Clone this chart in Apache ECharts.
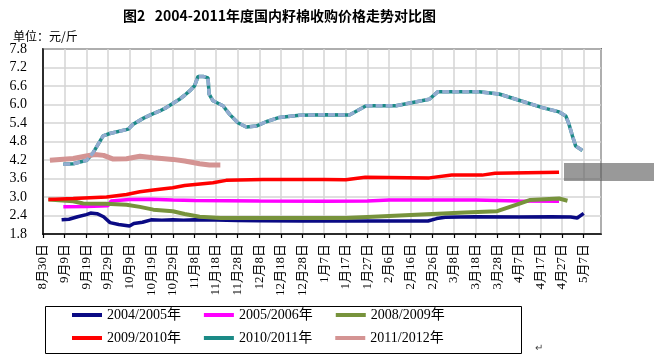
<!DOCTYPE html>
<html>
<head>
<meta charset="utf-8">
<script src="https://cdn.jsdelivr.net/npm/echarts@6/dist/echarts.min.js"></script>
<style>html,body{margin:0;padding:0;background:#fff;}#c{width:654px;height:357px;}</style>
</head>
<body>
<div id="c"></div>
<script>
// Tick labels (every 10 days starting 8月30日)
var tickLabels = ['8月30日','9月9日','9月19日','9月29日','10月9日','10月19日','10月29日','11月8日','11月18日','11月28日','12月8日','12月18日','12月28日','1月7日','1月17日','1月27日','2月6日','2月16日','2月26日','3月8日','3月18日','3月28日','4月7日','4月17日','4月27日','5月7日'];
var seriesNames = ['2004/2005年','2005/2006年','2008/2009年','2009/2010年','2010/2011年','2011/2012年'];
// [days since 8月30日, price 元/斤]
var s0405 = [[8.6,2.26],[12,2.28],[16,2.36],[20,2.43],[22,2.48],[25,2.46],[28,2.36],[31,2.17],[35,2.11],[40,2.06],[42,2.14],[46,2.18],[50,2.26],[55,2.25],[60,2.26],[65,2.25],[70,2.26],[80,2.25],[90,2.24],[100,2.23],[120,2.22],[140,2.22],[160,2.22],[178,2.22],[182,2.3],[186,2.34],[200,2.36],[220,2.35],[235,2.36],[244,2.35],[247,2.32],[250,2.47]];
var s0506 = [[9.4,2.68],[20,2.69],[30,2.72],[31.5,2.87],[40,2.92],[50,2.93],[60,2.9],[70,2.89],[100,2.87],[130,2.86],[150,2.87],[160,2.9],[200,2.9],[220,2.87],[238.6,2.86]];
var s0809 = [[2.5,2.92],[14,2.86],[18.6,2.79],[29,2.78],[38.6,2.75],[44.8,2.68],[51,2.59],[60,2.54],[65.5,2.45],[72.4,2.36],[82,2.32],[140,2.32],[195,2.5],[210,2.54],[219,2.75],[225,2.9],[238.6,2.95],[242.5,2.88]];
var s0910 = [[2.5,2.92],[14,2.95],[29.4,3.0],[38.6,3.08],[44.8,3.17],[51,3.23],[60,3.3],[65.5,3.37],[78.6,3.46],[84.7,3.54],[101.7,3.57],[130,3.57],[140,3.56],[149,3.64],[178.6,3.62],[189,3.71],[203,3.71],[209,3.77],[238.6,3.8]];
var s1011 = [[9.4,4.06],[14,4.08],[20.2,4.19],[23.2,4.44],[27.8,4.98],[30.9,5.06],[39.4,5.2],[41.7,5.36],[46.3,5.55],[50.2,5.68],[54,5.79],[57,5.9],[60,6.03],[63.1,6.17],[65.5,6.3],[67.8,6.44],[70.1,6.61],[71.7,6.91],[74,6.91],[76.3,6.86],[76.8,6.34],[78.6,6.12],[83.2,5.96],[86.3,5.68],[90.1,5.41],[94,5.27],[98.6,5.3],[103.2,5.44],[109.3,5.58],[118.6,5.65],[130,5.67],[141.7,5.66],[149.4,5.96],[163.2,5.96],[178.6,6.17],[182.5,6.41],[201.7,6.41],[210.9,6.34],[218.6,6.17],[230.9,5.9],[238.6,5.76],[241.7,5.63],[243.2,5.36],[244.8,4.98],[246.3,4.65],[249.4,4.51]];
var s1112 = [[3.2,4.19],[14,4.25],[20,4.33],[24,4.38],[28,4.35],[32.5,4.23],[38.6,4.24],[44.8,4.32],[51,4.27],[60,4.22],[65.5,4.17],[72.4,4.08],[77,4.04],[82,4.04]];

var colors = ['#0a0a84','#ff00ff','#77933c','#ff0000','#1b8a86','#d49493'];
var widths = [3.5,3.5,4,3.5,3.5,5];
var dataList = [s0405,s0506,s0809,s0910,s1011,s1112];

var series = [];
for (var i = 0; i < 6; i++) {
  series.push({
    name: seriesNames[i], type: 'line', data: dataList[i], showSymbol: false, smooth: false,
    color: colors[i], lineStyle: {color: colors[i], width: widths[i]}, z: 2 + i
  });
}
// light-blue marker overlay on 2010/2011
series.push({
  name: '_overlay', type: 'line', data: s1011, showSymbol: false,
  lineStyle: {color: '#93acd0', width: 3.5, type: [7, 3]}, z: 9, silent: true
});

var serif = "'Liberation Serif','Noto Sans CJK SC',serif";
var chart = echarts.init(document.getElementById('c'), null, {renderer: 'canvas'});
chart.setOption({
  animation: false,
  backgroundColor: '#fff',
  title: [
    {text: '图2   2004-2011年度国内籽棉收购价格走势对比图', left: 118, top: 4,
     textStyle: {fontFamily: "'Noto Sans CJK SC'", fontSize: 14, fontWeight: 'bold', color: '#000'}},
    {text: '单位：元/斤', left: 8, top: 25,
     textStyle: {fontFamily: "'Noto Sans CJK SC'", fontSize: 12, fontWeight: 'normal', color: '#000'}}
  ],
  grid: {left: 43, right: 53, top: 49, bottom: 123, show: true, borderColor: '#000', borderWidth: 1.5, containLabel: false},
  xAxis: {
    type: 'value', min: 0, max: 258, interval: 10,
    axisLine: {show: true, lineStyle: {color: '#000', width: 1.5}},
    axisTick: {show: true, length: 4, lineStyle: {color: '#000', width: 1.2}},
    splitLine: {show: true, lineStyle: {color: '#d4d4d4', width: 1.5}},
    axisLabel: {
      rotate: 90, margin: 10, color: '#000', fontSize: 13, fontFamily: serif,
      showMaxLabel: false,
      formatter: function (v) { var k = Math.round(v); return (k % 10 === 0 && k <= 250) ? tickLabels[k / 10] : ''; }
    }
  },
  yAxis: {
    type: 'value', min: 1.8, max: 7.8, interval: 0.6,
    axisLine: {show: true, lineStyle: {color: '#000', width: 1.5}},
    axisTick: {show: false},
    splitLine: {show: true, lineStyle: {color: '#d4d4d4', width: 1.5}},
    axisLabel: {color: '#000', fontSize: 14, fontFamily: serif, margin: 16,
      formatter: function (v) { return v.toFixed(1); }}
  },
  legend: [
    {data: seriesNames.slice(0, 3), left: 72, top: 308, orient: 'horizontal', itemWidth: 30, itemHeight: 4, itemGap: 23, icon: 'rect',
     textStyle: {fontFamily: serif, fontSize: 14, color: '#000', width: 100}, padding: 0},
    {data: seriesNames.slice(3, 6), left: 72, top: 331, orient: 'horizontal', itemWidth: 30, itemHeight: 4, itemGap: 23, icon: 'rect',
     textStyle: {fontFamily: serif, fontSize: 14, color: '#000', width: 100}, padding: 0}
  ],
  graphic: [
    {type: 'rect', left: 43, top: 304, shape: {width: 476, height: 47}, style: {fill: 'none', stroke: '#000', lineWidth: 1}, z: 10},
    {type: 'rect', left: 564, top: 163, shape: {width: 90, height: 18}, style: {fill: 'rgba(85,85,85,0.6)'}, z: 100},
    {type: 'text', left: 535, top: 343, style: {text: '↵', fill: '#444', font: '10px sans-serif'}, z: 10}
  ],
  series: series
});
</script>
</body>
</html>
